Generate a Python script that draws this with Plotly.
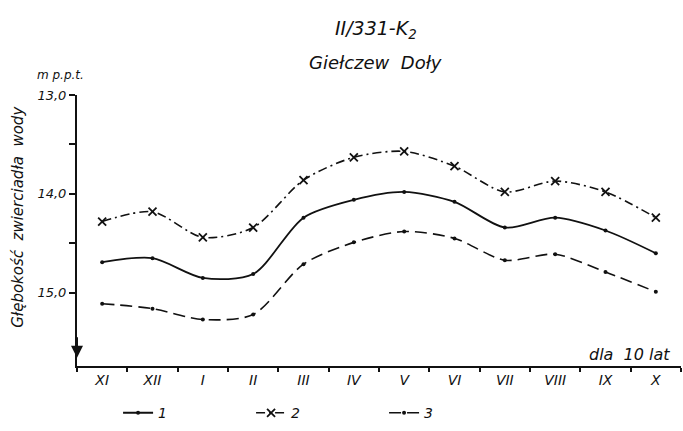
import plotly.graph_objects as go

months = ["XI", "XII", "I", "II", "III", "IV", "V", "VI", "VII", "VIII", "IX", "X"]
series1 = [14.69, 14.65, 14.85, 14.81, 14.24, 14.06, 13.98, 14.08, 14.34, 14.24, 14.37, 14.60]
series2 = [14.28, 14.18, 14.44, 14.34, 13.86, 13.63, 13.57, 13.72, 13.98, 13.87, 13.98, 14.24]
series3 = [15.11, 15.16, 15.27, 15.22, 14.71, 14.49, 14.38, 14.45, 14.67, 14.61, 14.79, 14.99]
y_ticks = [13.0, 13.5, 14.0, 14.5, 15.0]
y_ticktext = ["13,0", "", "14,0", "", "15,0"]
legend_names = ["1", "2", "3"]

INK = "#111111"
FONT = "DejaVu Sans"

fig = go.Figure()
fig.add_trace(go.Scatter(
    x=months, y=series1, name=legend_names[0], mode="lines+markers",
    line=dict(color=INK, width=1.8, shape="spline", smoothing=0.8),
    marker=dict(size=4, color=INK),
))
fig.add_trace(go.Scatter(
    x=months, y=series2, name=legend_names[1], mode="lines+markers",
    line=dict(color=INK, width=1.6, shape="spline", smoothing=0.8, dash="9px,4px,2px,4px"),
    marker=dict(symbol="x-thin", size=8, line=dict(color=INK, width=1.8), color=INK),
))
fig.add_trace(go.Scatter(
    x=months, y=series3, name=legend_names[2], mode="lines+markers",
    line=dict(color=INK, width=1.6, shape="spline", smoothing=0.8, dash="12px,6px"),
    marker=dict(size=4, color=INK),
))

fig.update_layout(
    width=683, height=431,
    margin=dict(l=77, r=2, t=95, b=60),
    paper_bgcolor="white", plot_bgcolor="white",
    font=dict(family=FONT, color=INK, size=13, style="italic"),
    showlegend=True,
    legend=dict(
        orientation="h", x=0.068, y=-0.115, xanchor="left", yanchor="top",
        font=dict(size=14, style="italic"), entrywidth=88, entrywidthmode="pixels",
        tracegroupgap=0, bgcolor="rgba(0,0,0,0)",
    ),
    xaxis=dict(
        type="category", categoryorder="array", categoryarray=months,
        range=[-0.5, 11.5], showline=True, linecolor=INK, linewidth=2,
        ticks="outside", tickson="boundaries", ticklen=4, tickcolor=INK, tickwidth=1.5,
        showgrid=False, zeroline=False,
        tickfont=dict(size=14, style="italic"),
    ),
    yaxis=dict(
        range=[15.74, 13.0], showline=True, linecolor=INK, linewidth=2,
        tickvals=y_ticks, ticktext=y_ticktext, ticks="outside", ticklen=6,
        tickcolor=INK, tickwidth=1.5, showgrid=False, zeroline=False,
        tickfont=dict(size=13, style="italic"),
    ),
    annotations=[
        dict(text="II/331-K<sub>2</sub>", xref="paper", yref="paper", x=0.495, y=1.243,
             xanchor="center", yanchor="middle", showarrow=False, font=dict(size=19, style="italic")),
        dict(text="Giełczew  Doły", xref="paper", yref="paper", x=0.495, y=1.12,
             xanchor="center", yanchor="middle", showarrow=False, font=dict(size=18, style="italic")),
        dict(text="m p.p.t.", xref="paper", yref="paper", x=-0.028, y=1.072,
             xanchor="center", yanchor="middle", showarrow=False, font=dict(size=12, style="italic")),
        dict(text="Głębokość  zwierciadła  wody", xref="paper", yref="paper", x=-0.098, y=0.55,
             xanchor="center", yanchor="middle", textangle=-90, showarrow=False,
             font=dict(size=15, style="italic")),
        dict(text="dla  10 lat", xref="paper", yref="paper", x=0.985, y=0.0,
             xanchor="right", yanchor="bottom", showarrow=False, font=dict(size=16, style="italic")),
        dict(text="", xref="paper", yref="paper", x=0.0, y=0.03, ax=0, ay=-22,
             showarrow=True, arrowhead=2, arrowsize=1.2, arrowwidth=2, arrowcolor=INK),
    ],
)

fig.write_html("out.html")
